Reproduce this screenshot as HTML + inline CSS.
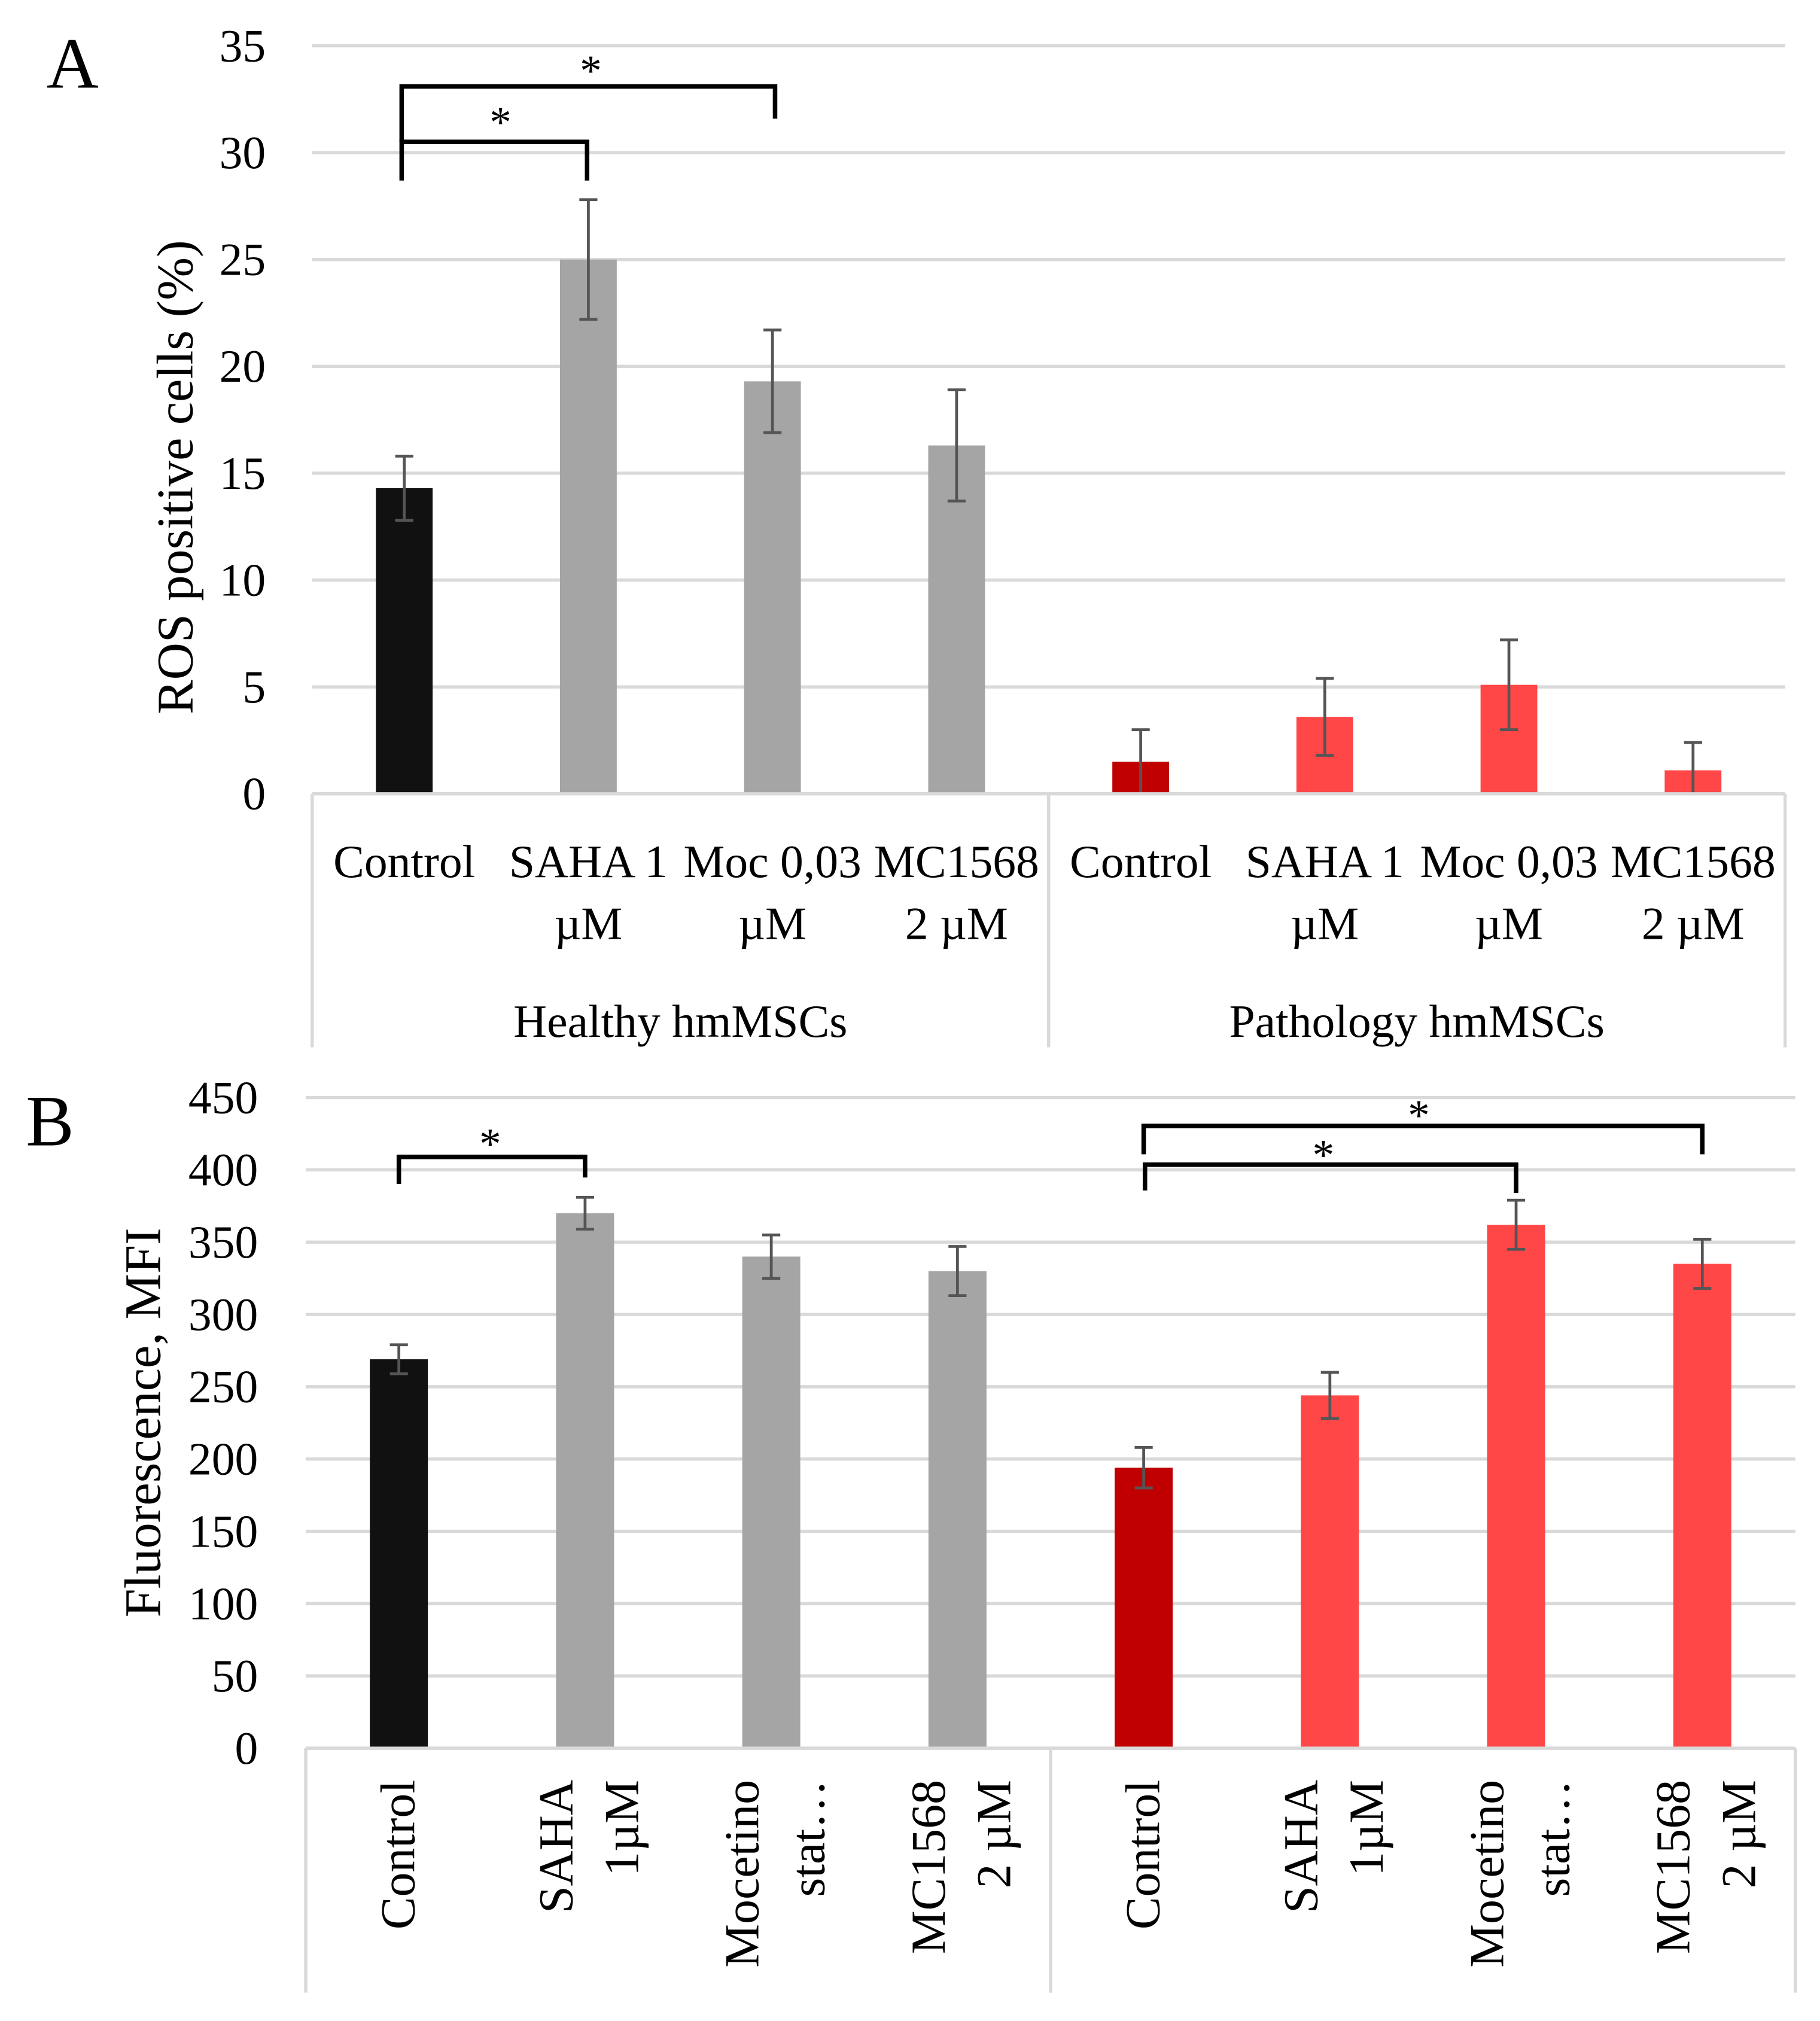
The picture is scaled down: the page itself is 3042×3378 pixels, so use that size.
<!DOCTYPE html>
<html><head><meta charset="utf-8"><style>
html,body{margin:0;padding:0;background:#fff}
svg{display:block}
text{font-family:"Liberation Serif",serif;fill:#000}
</style></head><body>
<svg id="fig" width="3042" height="3378" viewBox="0 0 1411 1567" xmlns="http://www.w3.org/2000/svg">
<g id="chartA"></g>
<g id="chartB"></g>
</svg>
<script>
// Chart A data
const aCategories = [["Control"],["SAHA 1","µM"],["Moc 0,03","µM"],["MC1568","2 µM"],["Control"],["SAHA 1","µM"],["Moc 0,03","µM"],["MC1568","2 µM"]];
const aGroups = ["Healthy hmMSCs","Pathology hmMSCs"];
const aValues = [14.3, 25.0, 19.3, 16.3, 1.5, 3.6, 5.1, 1.1];
const aErrors = [1.5, 2.8, 2.4, 2.6, 1.5, 1.8, 2.1, 1.3];
const aTicks = [0,5,10,15,20,25,30,35];
// Chart B data
const bCategories = [["Control"],["SAHA","1µM"],["Mocetino","stat…"],["MC1568","2 µM"],["Control"],["SAHA","1µM"],["Mocetino","stat…"],["MC1568","2 µM"]];
const bValues = [269, 370, 340, 330, 194, 244, 362, 335];
const bErrors = [10, 11, 15, 17, 14, 16, 17, 17];
const bTicks = [0,50,100,150,200,250,300,350,400,450];
const colors = ["#111111","#a5a5a5","#a5a5a5","#a5a5a5","#c00000","#ff4747","#ff4747","#ff4747"];

const NS="http://www.w3.org/2000/svg";
function mk(parent,tag,attrs,txt){const e=document.createElementNS(NS,tag);for(const k in attrs)e.setAttribute(k,attrs[k]);if(txt!==undefined)e.textContent=txt;parent.appendChild(e);return e;}

function drawChart(g,cfg){
  const {x0,x1,yTop,yBot,max,ticks,values,errors}=cfg;
  const ys=v=>yBot-(v/max)*(yBot-yTop);
  const cw=(x1-x0)/values.length;
  const xc=i=>x0+cw*(i+0.5);
  ticks.forEach(t=>{
    const l=mk(g,'line',{x1:x0,x2:x1,y1:ys(t),y2:ys(t),stroke:'#d9d9d9','stroke-width':2.5});
    
    
    const tx=mk(g,'text',{x:cfg.tickX,y:ys(t)+12,'text-anchor':'end','font-size':36},String(t));
    
    
  });
  values.forEach((v,i)=>{
    const r=mk(g,'rect',{x:xc(i)-cfg.bw/2,y:ys(v),width:cfg.bw,height:yBot-ys(v),fill:colors[i]});
    
    
    const lo=ys(Math.max(0,v-errors[i])),hi=ys(v+errors[i]);
    const eg=mk(g,'g',{stroke:'#555','stroke-width':2.2});
    
    
    mk(eg,'line',{x1:xc(i),x2:xc(i),y1:lo,y2:hi});
    mk(eg,'line',{x1:xc(i)-7,x2:xc(i)+7,y1:hi,y2:hi});
    mk(eg,'line',{x1:xc(i)-7,x2:xc(i)+7,y1:lo,y2:lo});
  });
  const ax=mk(g,'g',{stroke:'#d9d9d9','stroke-width':2.5});
  
  
  mk(ax,'line',{x1:x0,x2:x1,y1:yBot,y2:yBot});
  [x0,(x0+x1)/2,x1].forEach(x=>mk(ax,'line',{x1:x,x2:x,y1:yBot,y2:cfg.frameBot}));
  return {ys,xc};
}

function bracket(g,xa,xb,top,da,db,starX,starY){
  const p=mk(g,'path',{d:`M${xa} ${da} V${top} H${xb} V${db}`,fill:'none',stroke:'#000','stroke-width':3.5});
  
  
  const s=mk(g,'text',{x:starX,y:starY,'text-anchor':'middle','font-size':34},'*');
  
  
}

// ---- Chart A
const gA=document.getElementById('chartA');
const A=drawChart(gA,{x0:242,x1:1384,yTop:35.5,yBot:615.5,max:35,ticks:aTicks,values:aValues,errors:aErrors,bw:44,tickX:206,frameBot:812});
aCategories.forEach((c,i)=>{
  c.forEach((ln,j)=>{
    const t=mk(gA,'text',{x:A.xc(i),y:680+j*48,'text-anchor':'middle','font-size':36},ln);
    
    
  });
});
aGroups.forEach((gname,k)=>{
  const t=mk(gA,'text',{x:242+571*(k+0.5),y:804,'text-anchor':'middle','font-size':36},gname);
  
  
});
{const t=mk(gA,'text',{x:0,y:0,'text-anchor':'middle','font-size':40,transform:'translate(149 370) rotate(-90)'},'ROS positive cells (%)');

}
{const t=mk(gA,'text',{x:36,y:68,'font-size':56},'A');

}
bracket(gA,A.xc(0)-2,A.xc(1)-1,110,140,140,388,106);
bracket(gA,A.xc(0)-2,A.xc(2)+2,67,110,92,458,66);

// ---- Chart B
const gB=document.getElementById('chartB');
const B=drawChart(gB,{x0:237,x1:1392,yTop:851,yBot:1355.5,max:450,ticks:bTicks,values:bValues,errors:bErrors,bw:45,tickX:200,frameBot:1545});
bCategories.forEach((c,i)=>{
  const offs=c.length===1?[12]:[-10,41];
  c.forEach((ln,j)=>{
    const x=B.xc(i)+offs[j];
    const t=mk(gB,'text',{x:0,y:0,'text-anchor':'end','font-size':38,transform:`translate(${x} 1380) rotate(-90)`},ln);
    
    
  });
});
{const t=mk(gB,'text',{x:0,y:0,'text-anchor':'middle','font-size':40,transform:'translate(124 1103) rotate(-90)'},'Fluorescence, MFI');

}
{const t=mk(gB,'text',{x:20,y:888,'font-size':56},'B');

}
bracket(gB,B.xc(0),B.xc(1),897,918,913,380,898);
bracket(gB,B.xc(4)+1,B.xc(6),903,923,925,1026,907);
bracket(gB,B.xc(4),B.xc(7),873,895,895,1100,876);
</script>
</body></html>
